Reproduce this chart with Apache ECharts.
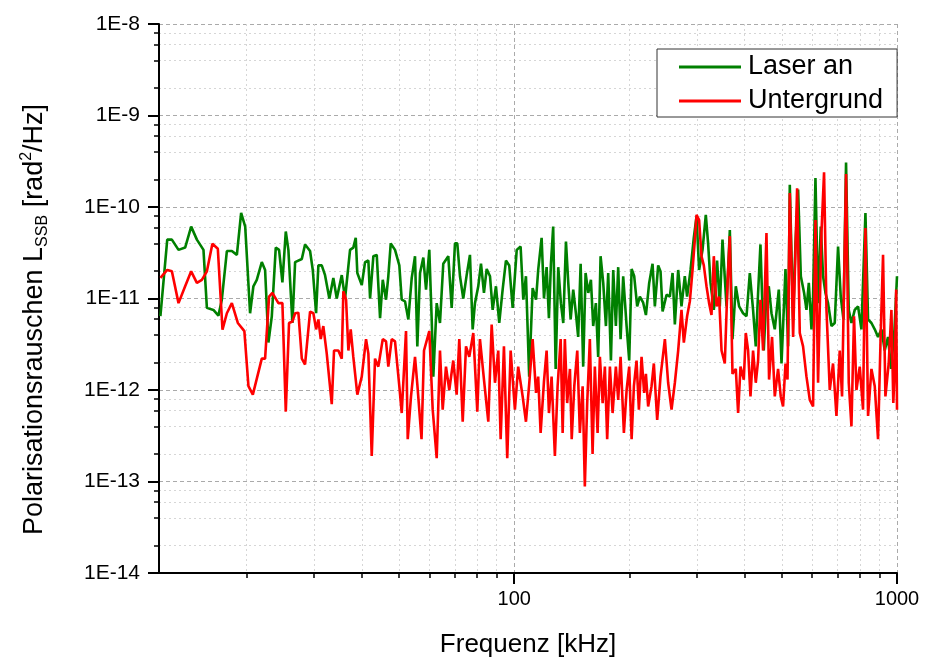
<!DOCTYPE html>
<html>
<head>
<meta charset="utf-8">
<script src="https://cdn.jsdelivr.net/npm/echarts@6/dist/echarts.min.js"></script>
<style>
html,body{margin:0;padding:0;background:#fff;}
#chart{width:928px;height:657px;}
</style>
</head>
<body>
<div id="chart"></div>
<script>
// ---- data (frequency in kHz, noise in rad^2/Hz) ----
const seriesNames = ['Laser an', 'Untergrund'];

const freqLaser = [11.9,12.4,12.75,13.27,13.81,14.32,14.82,15.42,15.74,16.37,16.87,17.22,17.75,18.29,18.85,19.34,19.82,20.41,20.82,21.25,21.9,22.34,22.79,23.26,23.82,24.3,24.79,25.3,25.7,26.33,26.76,27.86,28.41,29.28,29.76,30.36,30.78,31.41,32.04,32.88,33.68,34.38,35.43,36.14,37.24,37.98,38.54,38.91,39.96,40.76,41.58,42.01,42.85,43.73,44.61,45.34,46.24,46.88,47.57,48.81,50.09,50.82,51.84,52.88,53.97,55.05,55.82,56.74,57.87,58.82,59.99,60.86,61.45,62.72,63.97,65.25,67.25,68.64,70.01,70.99,72.15,73.59,75.11,76.61,77.87,78.95,80.54,81.87,83.35,84.72,86.43,87.82,89.59,91.38,93.26,95.13,97.03,99.04,101.5,103.9,105.6,107.3,109.4,111.7,114,115.5,117.9,119.6,121.5,123.2,124.7,126.4,128.3,130.3,132.4,134.3,136.5,138.4,140.4,142.6,144.9,146.9,149.1,151.4,153.6,156.1,158.6,160.8,163.4,165.7,168.1,170.8,173.6,176,178.9,181.4,184.3,186.9,189.6,192.6,196.6,199.7,202.6,205.8,209.5,212.9,217.2,220.8,225.2,229.8,233,237.7,241.1,244.1,250,255,259.2,262.8,268.1,273.5,279,282.9,288.8,294.5,299.4,304.1,310.4,316.6,321,325.7,332.2,338.8,344.4,350,358.6,365.8,371.7,379.2,386.8,396.2,404.4,412.5,420.7,427.6,433.6,439.8,448.7,456,462.4,470,479.4,491.1,499.2,511.3,519.4,524.7,535.3,543,551.6,560.7,571.9,580.1,588.3,597.8,603.6,612.3,622,632.2,641,650.4,660.5,674.2,687.6,701.5,712.9,724.6,736,748.1,760.3,775.6,791.1,807.4,827.1,840.2,857.5,874.7,892.2,910.8,928.9,947.3,965,985,1000];
const noiseLaser = [6.4e-12,4.4e-11,4.4e-11,3.4e-11,3.6e-11,6.1e-11,4.4e-11,3.4e-11,7.9e-12,7.5e-12,6.5e-12,9.7e-12,3.3e-11,3.3e-11,3.0e-11,8.6e-11,6.1e-11,6.9e-12,1.36e-11,1.6e-11,2.5e-11,2.05e-11,3.3e-12,6.4e-12,3.6e-11,3.4e-11,1.5e-11,5.4e-11,3.4e-11,5.4e-12,2.5e-11,2.7e-11,3.9e-11,3.3e-11,2.05e-11,6.9e-12,2.3e-11,2.3e-11,1.8e-11,1.0e-11,1.68e-11,1.0e-11,1.8e-11,1.0e-11,3.4e-11,3.6e-11,4.6e-11,1.9e-11,1.4e-11,2.5e-11,2.6e-11,1.0e-11,2.9e-11,3.0e-11,6.1e-12,1.6e-11,9.7e-12,1.75e-11,4.0e-11,3.4e-11,2.3e-11,9.7e-12,9.3e-12,5.9e-12,1.68e-11,2.9e-11,3.0e-12,1.9e-11,2.8e-11,1.25e-11,3.4e-11,5.9e-12,1.4e-12,8.9e-12,5.4e-12,2.4e-11,2.9e-11,7.9e-12,4.0e-11,4.0e-11,1.75e-11,1.0e-11,1.8e-11,3.0e-11,4.6e-12,8.9e-12,1.36e-11,2.4e-11,1.15e-11,2.1e-11,1.75e-11,7.5e-12,1.36e-11,5.4e-12,1.25e-11,2.6e-11,2.3e-11,7.9e-12,3.4e-11,3.7e-11,9.7e-12,1.75e-11,1.4e-12,1.3e-11,9.7e-12,2.05e-11,4.6e-11,1.0e-11,2.2e-11,6.1e-12,2.4e-11,6.1e-11,1.7e-12,2.2e-11,8.9e-12,5.4e-12,4.2e-11,1.48e-11,5.9e-12,1.25e-11,6.9e-12,3.8e-12,2.4e-11,1.8e-12,1.9e-11,1.15e-11,1.6e-11,5.0e-12,8.9e-12,2.3e-12,2.9e-11,1.48e-11,5.0e-12,1.9e-11,2.1e-12,2.05e-11,5.0e-12,2.2e-11,3.6e-12,1.75e-11,5.0e-12,2.1e-12,2.1e-11,1.75e-11,8.2e-12,1.05e-11,9.0e-12,6.6e-12,1.48e-11,2.4e-11,8.2e-12,2.3e-11,1.98e-11,7.2e-12,1.1e-11,1.05e-11,1.9e-11,5.2e-12,2.05e-11,8.2e-12,1.75e-11,1.05e-11,2.05e-11,4.6e-11,7.9e-11,2.05e-11,3.4e-11,8.2e-11,4.0e-11,1.48e-11,7.5e-12,2.6e-11,8.2e-12,4.4e-11,8.2e-12,5.6e-11,3.6e-12,1.36e-11,8.2e-12,6.9e-12,6.4e-12,1.9e-11,7.5e-12,3.0e-12,1.15e-11,3.9e-11,2.7e-12,1.15e-11,1.36e-11,6.9e-12,4.6e-12,1.25e-11,1.95e-12,2.1e-11,3.0e-12,1.75e-10,5.9e-12,4.0e-11,1.55e-10,1.75e-11,1.15e-11,7.5e-12,1.48e-11,4.6e-12,1.05e-11,2.07e-10,8.9e-12,6.1e-11,1.75e-11,1.15e-11,8.9e-12,5.0e-12,5.4e-12,3.7e-11,1.05e-11,5.9e-12,3.07e-10,7.5e-12,5.4e-12,7.5e-12,8.2e-12,4.6e-12,8.6e-11,5.9e-12,5.4e-12,4.6e-12,3.8e-12,4.6e-12,2.7e-12,3.8e-12,1.7e-12,4.6e-12,1.75e-11];

const freqBackground = [11.9,12.4,12.75,13.27,13.81,14.32,14.82,15.27,15.74,16.27,16.81,17.29,17.75,18.29,18.96,19.72,20.21,20.75,21.9,22.34,22.88,23.34,24.2,24.79,25.3,25.8,26.33,26.76,27.29,27.86,28.41,29.28,29.87,30.36,30.78,31.22,31.71,32.37,33.36,33.82,34.71,35.43,35.77,36.36,36.87,37.39,37.98,38.91,39.96,41,41.58,42.43,43.28,44.15,45.34,46.24,46.88,47.85,48.81,50.09,50.82,52.15,52.69,53.74,55.05,55.82,57.25,58.11,59.99,61.23,62.72,63.97,65.02,66.32,67.65,69.29,70.72,71.85,73.34,74.81,76.3,78.16,80.07,81.36,83.35,85.55,87.3,89.05,90.83,92.15,93.99,95.88,97.86,100.4,102.4,105.2,107.3,109.4,111.7,114,115.5,117.2,119.6,121.5,123.2,125.2,127.7,129.8,132.2,133.8,135.6,137.5,139.8,141.3,143.5,146.1,148.4,150.9,152.9,155.1,157.6,160.2,162.4,165.1,167.4,170.2,172.5,174.9,177.8,180.7,184.3,186.9,189.6,193.4,196.6,199.7,202.6,205.4,208.7,211.7,215.1,218.5,220.8,223.8,228.4,231.6,236.3,241.1,247.5,252.4,257.6,262.8,268.1,273.5,277.4,282.9,287.6,292.3,296.4,299.4,304.1,308.5,312.8,317.9,322.9,327.6,332.2,337.6,342.9,348,354.9,360.8,365.8,371.7,379.2,384.5,390.1,397.9,402.7,408.3,414.2,420.7,427.6,433.6,439.8,446.8,456,463.2,471.6,479.4,489,496.9,503.9,511.3,517.5,524.7,535.3,548.3,557.2,568.3,580.1,591.8,603.6,612.3,622,634.8,644.8,654.3,667.3,680.6,694.7,708.6,718.5,736,748.1,760.3,772.2,783.5,799.2,815.2,827.1,840.2,857.5,874.7,892.2,906.8,919.5,932.7,951.3,967,978,988,995,1000];
const noiseBackground = [1.68e-11,2.05e-11,1.98e-11,8.9e-12,1.36e-11,1.98e-11,1.48e-11,1.6e-11,1.98e-11,3.97e-11,3.5e-11,4.56e-12,6.9e-12,8.9e-12,5.4e-12,4.4e-12,1.1e-12,8.9e-13,2.2e-12,2.2e-12,1.05e-11,1.15e-11,8.9e-12,8.9e-12,5.8e-13,5.4e-12,5.6e-12,6.9e-12,7.0e-12,2.2e-12,1.9e-12,7.2e-12,6.9e-12,4.6e-12,5.9e-12,3.6e-12,5.0e-12,2.5e-12,7.0e-13,2.7e-12,2.7e-12,2.2e-12,1.2e-11,9.7e-12,2.7e-12,4.6e-12,2.3e-12,8.9e-13,1.4e-12,3.6e-12,2.5e-12,1.9e-13,2.2e-12,1.8e-12,3.6e-12,3.4e-12,1.8e-12,3.6e-12,3.4e-12,1.1e-12,5.6e-13,4.4e-12,2.9e-13,8.5e-13,2.3e-12,1.15e-12,2.9e-13,2.7e-12,4.4e-12,6.1e-13,1.8e-13,2.7e-12,6.1e-13,1.8e-12,1.0e-12,2.1e-12,8.9e-13,3.6e-12,4.5e-13,3.0e-12,2.3e-12,4.2e-12,5.8e-13,3.6e-12,1.3e-12,4.5e-13,5.2e-12,1.2e-12,2.7e-12,2.9e-13,3.0e-12,1.8e-13,2.7e-12,6.1e-13,1.8e-12,8.5e-13,4.5e-13,1.15e-12,3.6e-12,9.3e-13,1.4e-12,3.4e-13,1.25e-12,2.7e-12,5.6e-13,1.4e-12,1.9e-13,1.1e-12,3.6e-12,3.4e-13,3.6e-12,7.2e-13,1.7e-12,2.9e-13,1.1e-12,2.7e-12,3.4e-13,1.1e-12,8.8e-14,7.2e-13,3.6e-12,2.0e-13,1.8e-12,3.4e-13,2.3e-12,7.2e-13,1.8e-12,2.9e-13,1.8e-12,5.6e-13,1.8e-12,7.8e-13,2.3e-12,3.4e-13,1.0e-12,1.8e-12,2.9e-13,1.1e-12,2.1e-12,6.1e-13,2.3e-12,9.3e-13,1.5e-12,6.6e-13,1.1e-12,1.95e-12,4.7e-13,1.4e-12,3.6e-12,1.2e-12,6.1e-13,1.2e-12,2.7e-12,7.5e-12,3.3e-12,6.4e-12,9.3e-12,2.05e-11,4.4e-11,8.2e-11,7.2e-11,2.9e-11,2.3e-11,1.36e-11,8.9e-12,6.6e-12,2.9e-11,8.2e-12,1.05e-11,2.7e-12,1.95e-12,1.48e-11,4.8e-11,1.5e-12,1.7e-12,5.6e-13,1.8e-12,1.3e-12,4.2e-12,2.7e-12,8.5e-13,2.7e-12,1.2e-12,2.1e-12,9.7e-12,2.7e-12,5.2e-11,1.3e-12,3.8e-12,8.5e-13,1.7e-12,8.5e-13,6.6e-13,1.95e-12,1.3e-12,1.42e-10,3.8e-12,1.6e-10,4.2e-12,3.0e-12,1.4e-12,7.8e-13,6.6e-13,7.2e-11,1.2e-12,5.2e-11,2.4e-10,7.5e-12,1.0e-12,1.95e-12,5.2e-13,2.7e-12,8.5e-13,2.3e-10,1.2e-12,4.0e-13,6.4e-12,1.0e-12,1.8e-12,6.1e-13,5.9e-11,5.2e-13,1.7e-12,1.1e-12,2.9e-13,4.2e-12,3.0e-11,8.5e-13,1.95e-12,7.5e-12,7.2e-13,1.95e-12,1.25e-11,6.1e-13];

// ---- axes ticks ----
const xMin = 11.8, xMax = 1000;
const xMajorTicks = [100, 1000];
const xMinorTicks = [20, 30, 40, 50, 60, 70, 80, 90, 200, 300, 400, 500, 600, 700, 800, 900];
const yMin = 1e-14, yMax = 1e-8;
const yMajorTicks = [1e-14, 1e-13, 1e-12, 1e-11, 1e-10, 1e-9, 1e-8];
const yMinorMultipliers = [2, 4, 6, 8];
const yMinorTicks = [];
yMajorTicks.slice(0, -1).forEach(function (d) {
  yMinorMultipliers.forEach(function (m) { yMinorTicks.push(m * d); });
});

const FONT = 'Liberation Sans';
const chart = echarts.init(document.getElementById('chart'), null, {renderer: 'canvas'});

const majorSplit = {show: true, lineStyle: {color: '#aaaaaa', width: 1, type: [4, 3]}};
const minorSplit = {show: true, lineStyle: {color: '#d6d6d6', width: 1, type: [2, 3]}};

chart.setOption({
  animation: false,
  backgroundColor: '#ffffff',
  grid: {left: 159, right: 31, top: 24, bottom: 84, outerBoundsMode: 'none'},
  legend: {
    orient: 'vertical',
    left: 657, top: 49,
    padding: [3, 14, 1, 22],
    itemGap: 4,
    icon: 'rect',
    itemWidth: 62, itemHeight: 3,
    backgroundColor: '#ffffff',
    borderColor: '#333333', borderWidth: 1, borderRadius: 0,
    textStyle: {fontFamily: FONT, fontSize: 27, color: '#000', lineHeight: 30, padding: [0, 0, 0, 2]},
    data: seriesNames
  },
  xAxis: [{
    type: 'log', logBase: 10, min: xMin, max: xMax,
    position: 'bottom',
    name: 'Frequenz [kHz]', nameLocation: 'middle', nameGap: 59,
    nameTextStyle: {fontFamily: FONT, fontSize: 26, color: '#000'},
    axisLine: {show: true, lineStyle: {color: '#000', width: 2}},
    axisTick: {show: true, customValues: xMajorTicks, length: 11, lineStyle: {color: '#000', width: 2}},
    axisLabel: {show: true, customValues: xMajorTicks, margin: 16, fontFamily: FONT, fontSize: 20, color: '#000',
      formatter: function (v) { return String(Math.round(v)); }},
    splitLine: majorSplit,
    minorTick: {show: false}, minorSplitLine: {show: false}
  }, {
    type: 'log', logBase: 10, min: xMin, max: xMax,
    position: 'bottom',
    axisLine: {show: false},
    axisTick: {show: true, customValues: xMinorTicks, length: 5, lineStyle: {color: '#000', width: 1.5}},
    axisLabel: {show: false},
    splitLine: minorSplit
  }],
  yAxis: [{
    type: 'log', logBase: 10, min: yMin, max: yMax,
    position: 'left',
    name: 'Polarisationsrauschen L{sub|SSB} [rad{sup|2}/Hz]',
    nameLocation: 'middle', nameGap: 108,
    nameTextStyle: {
      fontFamily: FONT, fontSize: 27, color: '#000', lineHeight: 32, padding: [0, 42, 0, 0],
      rich: {
        sub: {fontFamily: FONT, fontSize: 16, color: '#000', verticalAlign: 'bottom', lineHeight: 32},
        sup: {fontFamily: FONT, fontSize: 16, color: '#000', verticalAlign: 'top', lineHeight: 32}
      }
    },
    axisLine: {show: true, lineStyle: {color: '#000', width: 2}},
    axisTick: {show: true, customValues: yMajorTicks, length: 11, lineStyle: {color: '#000', width: 2}},
    axisLabel: {show: true, customValues: yMajorTicks, margin: 19, fontFamily: FONT, fontSize: 21, color: '#000',
      formatter: function (v) { return '1E' + Math.round(Math.log10(v)); }},
    splitLine: majorSplit,
    minorTick: {show: false}, minorSplitLine: {show: false}
  }, {
    type: 'log', logBase: 10, min: yMin, max: yMax,
    position: 'left',
    axisLine: {show: false},
    axisTick: {show: true, customValues: yMinorTicks, length: 5, lineStyle: {color: '#000', width: 1.5}},
    axisLabel: {show: false},
    splitLine: minorSplit
  }],
  series: [{
    name: seriesNames[0], type: 'line', xAxisIndex: 0, yAxisIndex: 0,
    showSymbol: false, symbol: 'none', smooth: false,
    color: '#008000',
    lineStyle: {color: '#008000', width: 2.6},
    data: freqLaser.map(function (f, i) { return [f, noiseLaser[i]]; })
  }, {
    name: seriesNames[1], type: 'line', xAxisIndex: 0, yAxisIndex: 0,
    showSymbol: false, symbol: 'none', smooth: false,
    color: '#ff0000',
    lineStyle: {color: '#ff0000', width: 2.6},
    data: freqBackground.map(function (f, i) { return [f, noiseBackground[i]]; })
  }]
});
</script>
</body>
</html>
